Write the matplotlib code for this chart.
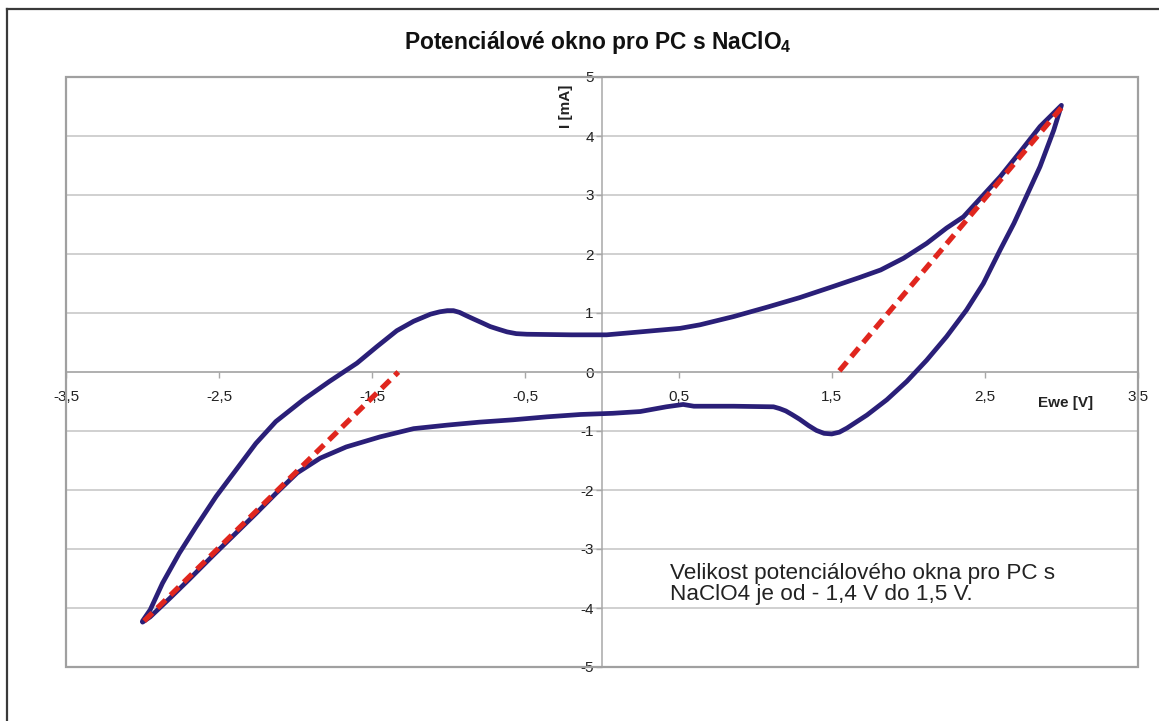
import matplotlib
matplotlib.use("Agg")
import matplotlib.pyplot as plt
from matplotlib.lines import Line2D
from matplotlib.patches import Rectangle

# Cyclic voltammogram: forward sweep (-3 V -> 3 V)
fwd_E = [-3.00, -2.95, -2.87, -2.76, -2.65, -2.52, -2.39, -2.26, -2.13, -1.95,
         -1.78, -1.60, -1.47, -1.34, -1.23, -1.12, -1.06, -1.01, -0.97, -0.93,
         -0.89, -0.84, -0.78, -0.73, -0.67, -0.62, -0.56, -0.49, -0.20, 0.03,
         0.25, 0.51, 0.64, 0.86, 1.08, 1.29, 1.51, 1.68, 1.82, 1.97,
         2.12, 2.25, 2.36, 2.48, 2.60, 2.73, 2.86, 3.00]
fwd_I = [-4.22, -4.03, -3.58, -3.07, -2.62, -2.11, -1.66, -1.21, -0.84, -0.47,
         -0.16, 0.15, 0.43, 0.70, 0.86, 0.98, 1.02, 1.04, 1.04, 1.01,
         0.96, 0.90, 0.83, 0.77, 0.72, 0.68, 0.65, 0.64, 0.63, 0.63,
         0.68, 0.74, 0.80, 0.94, 1.10, 1.26, 1.45, 1.60, 1.73, 1.93,
         2.18, 2.44, 2.63, 2.97, 3.31, 3.73, 4.16, 4.52]

# Reverse sweep (3 V -> -3 V)
rev_E = [2.95, 2.86, 2.77, 2.69, 2.60, 2.49, 2.38, 2.25, 2.12, 1.99,
         1.86, 1.73, 1.60, 1.55, 1.50, 1.45, 1.40, 1.35, 1.29, 1.24,
         1.20, 1.16, 1.12, 0.86, 0.60, 0.53, 0.42, 0.25, 0.07, -0.14,
         -0.36, -0.58, -0.80, -1.01, -1.23, -1.45, -1.67, -1.84, -1.99, -2.13,
         -2.26, -2.39, -2.54, -2.69, -2.82, -2.95, -3.00]
rev_I = [4.10, 3.48, 2.97, 2.52, 2.07, 1.50, 1.05, 0.60, 0.20, -0.16,
         -0.47, -0.73, -0.95, -1.02, -1.05, -1.04, -0.99, -0.91, -0.80, -0.72,
         -0.66, -0.62, -0.59, -0.58, -0.58, -0.55, -0.59, -0.67, -0.70, -0.72,
         -0.76, -0.81, -0.85, -0.90, -0.96, -1.10, -1.27, -1.46, -1.71, -2.06,
         -2.40, -2.73, -3.11, -3.50, -3.83, -4.15, -4.24]

# Tangent lines marking the window limits
tan_cath_E = [-2.99, -1.33]
tan_cath_I = [-4.22, 0.00]
tan_anod_E = [1.55, 3.00]
tan_anod_I = [0.02, 4.48]

x_ticks = [-3.5, -2.5, -1.5, -0.5, 0.5, 1.5, 2.5, 3.5]
y_ticks = [-5, -4, -3, -2, -1, 0, 1, 2, 3, 4, 5]

title_text = r"Potenciálové okno pro PC s NaClO$_\mathregular{4}$"
note_text = "Velikost potenciálového okna pro PC s\nNaClO4 je od - 1,4 V do 1,5 V."

plt.rcParams['font.family'] = ['Liberation Sans', 'DejaVu Sans']

W, H = 1159, 721
fig = plt.figure(figsize=(W / 100, H / 100), dpi=100)
fig.patch.set_facecolor('white')

# outer chart frame (top and left edges)
fig.add_artist(Line2D([7 / W, 1.0], [1 - 9 / H, 1 - 9 / H], color='#3a3a3a', lw=1.6,
                      transform=fig.transFigure))
fig.add_artist(Line2D([7 / W, 7 / W], [0.0, 1 - 9 / H], color='#3a3a3a', lw=1.6,
                      transform=fig.transFigure))

left, right, top, bottom = 66, 1138, 77, 667
ax = fig.add_axes([left / W, 1 - bottom / H, (right - left) / W, (bottom - top) / H])
ax.set_xlim(-3.5, 3.5)
ax.set_ylim(-5, 5)

for yv in y_ticks:
    ax.axhline(yv, color='#c4c4c4', lw=1.1, zorder=0)

ax.spines['top'].set_visible(False)
ax.spines['right'].set_visible(False)
ax.spines['left'].set_position('zero')
ax.spines['bottom'].set_position('zero')
ax.spines['left'].set_color('#a8a8a8')
ax.spines['bottom'].set_color('#a8a8a8')
ax.spines['left'].set_linewidth(1.1)
ax.spines['bottom'].set_linewidth(1.1)

ax.add_patch(Rectangle((0, 0), 1, 1, transform=ax.transAxes, fill=False,
                       edgecolor='#a0a0a0', lw=1.6, zorder=5, clip_on=False))

ax.set_xticks(x_ticks)
ax.set_xticklabels([f"{v:g}".replace('.', ',') for v in x_ticks])
ax.set_yticks(y_ticks)
ax.set_yticklabels([f"{v:g}" for v in y_ticks])
ax.tick_params(axis='x', direction='out', length=4, width=1, color='#a8a8a8',
               labelsize=11, pad=9, labelcolor='#222222')
ax.tick_params(axis='y', direction='out', length=4, width=1, color='#a8a8a8',
               labelsize=11, pad=2, labelcolor='#222222')

ax.plot(fwd_E + rev_E, fwd_I + rev_I, color='#2a1f78', lw=3.4,
        solid_joinstyle='round', solid_capstyle='round', zorder=3)
ax.plot(tan_cath_E, tan_cath_I, color='#e0261e', lw=3.8, dashes=(2.2, 1.3), zorder=4)
ax.plot(tan_anod_E, tan_anod_I, color='#e0261e', lw=3.8, dashes=(2.2, 1.3), zorder=4)

fig.text(598 / W, 1 - 42 / H, title_text, ha='center', va='center',
         fontsize=16.4, fontweight='bold', color='#111111')
fig.text(566 / W, 1 - 106 / H, "I [mA]", ha='center', va='center', rotation=90,
         fontsize=11, fontweight='bold', color='#222222')
fig.text(1038 / W, 1 - 403 / H, "Ewe [V]", ha='left', va='center',
         fontsize=11, fontweight='bold', color='#222222')
fig.text(670 / W, 1 - 563 / H, note_text, ha='left', va='top',
         fontsize=16.2, color='#222222', linespacing=1.03)

fig.savefig("out.png", dpi=100, facecolor='white')
